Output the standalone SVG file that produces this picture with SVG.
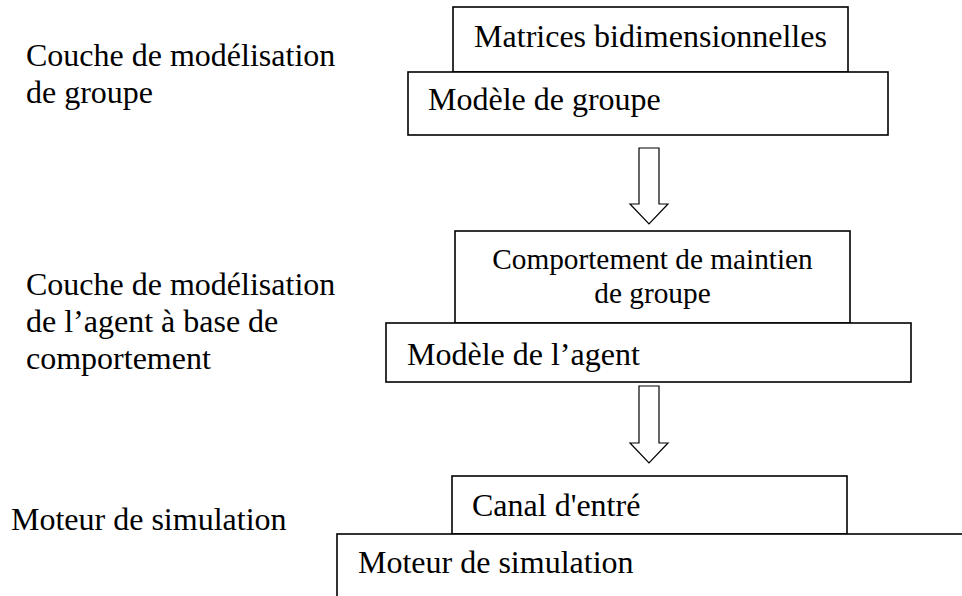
<svg xmlns="http://www.w3.org/2000/svg" width="962" height="596" viewBox="0 0 962 596">
<style>
text{font-family:"Liberation Serif","Times New Roman",serif;font-size:32px;fill:#000}
.box{fill:#fff;stroke:#000;stroke-width:1.6}
.arr{fill:#fff;stroke:#000;stroke-width:1.2;stroke-linejoin:miter}
.sm{font-size:29.3px}
</style>
<rect width="962" height="596" fill="#fff"/>
<g id="labels">
<text x="26" y="66">Couche de modélisation</text>
<text x="26" y="103">de groupe</text>
<text x="26" y="295">Couche de modélisation</text>
<text x="26" y="332">de l’agent à base de</text>
<text x="26" y="369">comportement</text>
<text x="11" y="530">Moteur de simulation</text>
</g>
<g id="matrices">
<rect class="box" x="453" y="7" width="395" height="65"/>
<text x="650.5" y="47" text-anchor="middle">Matrices bidimensionnelles</text>
</g>
<g id="modele-groupe">
<rect class="box" x="408" y="72" width="480" height="63"/>
<text x="428" y="110">Modèle de groupe</text>
</g>
<g id="comportement">
<rect class="box" x="455" y="231" width="395" height="92"/>
<text class="sm" x="652.5" y="269" text-anchor="middle">Comportement de maintien</text>
<text class="sm" x="652.5" y="303" text-anchor="middle">de groupe</text>
</g>
<g id="modele-agent">
<rect class="box" x="386" y="323" width="525" height="59"/>
<text x="407" y="365">Modèle de l’agent</text>
</g>
<g id="canal">
<rect class="box" x="452" y="476" width="395" height="58"/>
<text x="472" y="516">Canal d'entré</text>
</g>
<g id="moteur">
<rect class="box" x="337" y="534" width="700" height="100"/>
<text x="358" y="573">Moteur de simulation</text>
</g>
<g id="connectors">
<path class="arr" d="M639,148 H659 V204 H668 L649,224 L630,204 H639 Z"/>
<path class="arr" d="M639,386 H659 V443 H668 L649,463 L630,443 H639 Z"/>
</g>
</svg>
